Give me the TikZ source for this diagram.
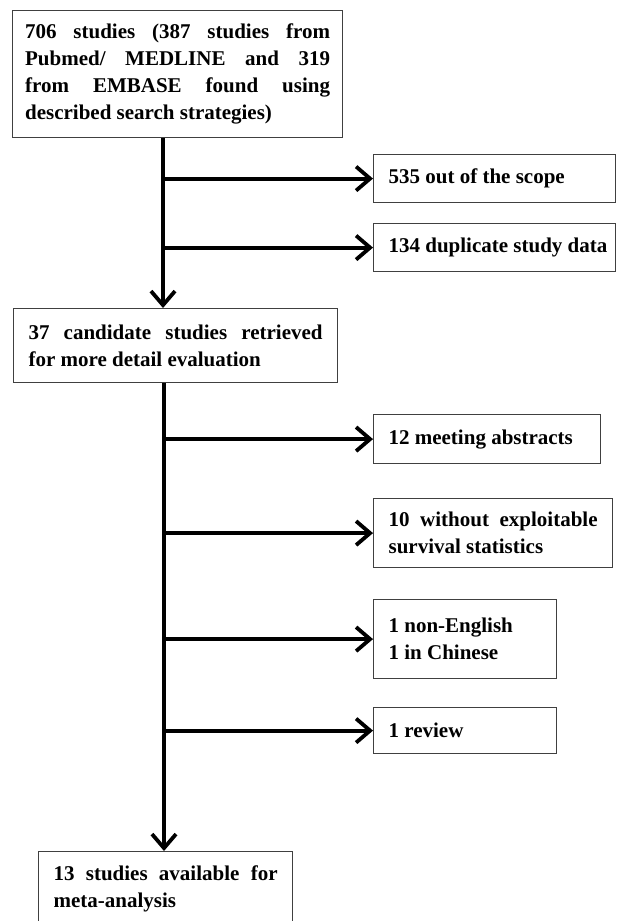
\documentclass[tikz,border=0pt]{standalone}
\usepackage{fontspec}
\setmainfont{Liberation Serif}
\usetikzlibrary{arrows.meta}
\begin{document}
\begin{tikzpicture}[x=1pt,y=-1pt,
  box/.style={draw=black!75, line width=1.2pt, anchor=north west, inner xsep=15pt, inner ysep=0pt, align=justify, font=\fontsize{21}{27}\selectfont\bfseries},
  conn/.style={line width=3.8pt, -{Straight Barb[length=14pt,width=24pt]}}]
\useasboundingbox (0,0) rectangle (616,921);
\clip (0,0) rectangle (616,921);
\node[box, text width=305pt, inner xsep=12.5pt, minimum height=127pt] (b1) at (12,10) {706 studies (387 studies from\linebreak Pubmed/ MEDLINE and 319\linebreak from EMBASE found using\linebreak described search strategies)};
\node[box, text width=212pt, minimum height=48pt] (b535) at (373,154) {535 out of the scope};
\node[box, text width=212pt, minimum height=48pt] (b134) at (373,223) {\mbox{134 duplicate study data}};
\node[box, text width=294pt, minimum height=74pt] (b37) at (13,308) {37 candidate studies retrieved\linebreak for more detail evaluation};
\node[box, text width=197pt, minimum height=49pt] (b12) at (373,414) {12 meeting abstracts};
\node[box, text width=209pt, minimum height=69pt] (b10) at (373,498) {10 without exploitable\linebreak survival statistics};
\node[box, text width=153pt, minimum height=79pt] (bne) at (373,599) {1 non-English\\1 in Chinese};
\node[box, text width=153pt, minimum height=46pt] (brev) at (373,707) {1 review};
\node[box, text width=224pt, minimum height=74pt] (b13) at (38,851) {13 studies available for\linebreak meta-analysis};
\coordinate (tA) at (163,0);
\coordinate (tB) at (164,0);
\draw[conn] (b1.south -| tA) -- (b37.north -| tA);
\draw[conn] (b535.west -| tA) -- (b535.west);
\draw[conn] (b134.west -| tA) -- (b134.west);
\draw[conn] (b37.south -| tB) -- (b13.north -| tB);
\draw[conn] (b12.west -| tB) -- (b12.west);
\draw[conn] (b10.west -| tB) -- (b10.west);
\draw[conn] (bne.west -| tB) -- (bne.west);
\draw[conn] (brev.west -| tB) -- (brev.west);
\end{tikzpicture}
\end{document}
